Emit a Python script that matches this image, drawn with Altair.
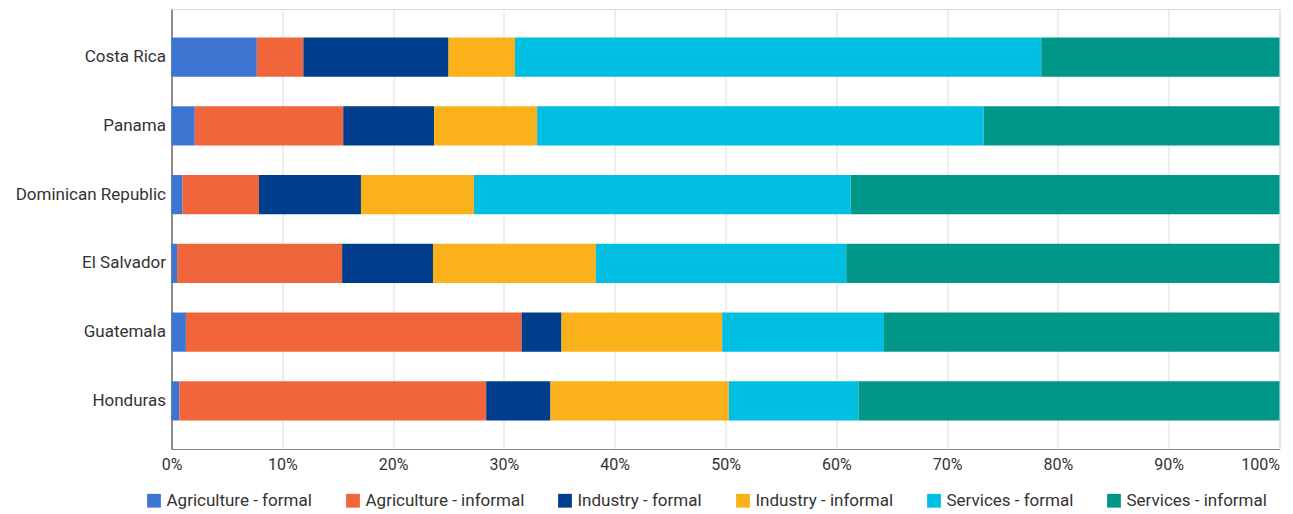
import altair as alt
import pandas as pd

countries = ["Costa Rica", "Panama", "Dominican Republic", "El Salvador", "Guatemala", "Honduras"]
sectors = ["Agriculture - formal", "Agriculture - informal", "Industry - formal",
           "Industry - informal", "Services - formal", "Services - informal"]
colors = ["#3C75D2", "#F0663A", "#003D8C", "#FBB11A", "#00BFE3", "#009688"]

# shares (%) per country, in sector order
costa_rica = [7.7, 4.2, 13.1, 6.0, 47.5, 21.5]
panama = [2.1, 13.4, 8.2, 9.3, 40.3, 26.7]
dominican_republic = [1.0, 6.9, 9.2, 10.2, 34.0, 38.7]
el_salvador = [0.5, 14.9, 8.2, 14.7, 22.6, 39.1]
guatemala = [1.3, 30.3, 3.6, 14.5, 14.6, 35.7]
honduras = [0.7, 27.7, 5.8, 16.1, 11.7, 38.0]

values = [costa_rica, panama, dominican_republic, el_salvador, guatemala, honduras]

rows = []
for c, vals in zip(countries, values):
    for i, (s, v) in enumerate(zip(sectors, vals)):
        rows.append({"country": c, "sector": s, "share": v / 100.0, "order": i})
df = pd.DataFrame(rows)

FONT = "Roboto"

chart = alt.Chart(df).mark_bar().encode(
    y=alt.Y("country:N", sort=countries, title=None,
            scale=alt.Scale(paddingInner=0.43, paddingOuter=0.415),
            axis=alt.Axis(labelFontSize=17, labelColor="#333333", labelFont=FONT,
                          ticks=False, labelPadding=6, domainColor="#333333",
                          domainWidth=1, grid=False)),
    x=alt.X("share:Q", stack="zero", title=None,
            scale=alt.Scale(domain=[0, 1], nice=False),
            axis=alt.Axis(format=".0%", values=[i / 10 for i in range(11)],
                          labelFontSize=16, labelColor="#333333", labelFont=FONT,
                          ticks=False, labelPadding=7, labelFlush=False,
                          labelAlign=alt.ExprRef("datum.value == 1 ? 'right' : 'center'"),
                          domainColor="#888888", gridColor="#dddddd", gridWidth=1)),
    color=alt.Color("sector:N", sort=sectors,
                    scale=alt.Scale(domain=sectors, range=colors),
                    legend=alt.Legend(title=None, orient="none", direction="horizontal",
                                      legendX=-26, legendY=483,
                                      symbolType="square", symbolSize=190,
                                      symbolStrokeWidth=0,
                                      labelFontSize=17, labelFont=FONT, labelColor="#333333",
                                      columnPadding=32, labelOffset=4)),
    order=alt.Order("order:Q"),
).properties(
    width=1108,
    height=440,
    autosize=alt.AutoSizeParams(type="none"),
    padding={"left": 163.5, "top": 1, "right": 2, "bottom": 62},
).configure_view(stroke=None).configure(background="white")

chart.save("out.html", embed_options={"renderer": "svg", "actions": False})
